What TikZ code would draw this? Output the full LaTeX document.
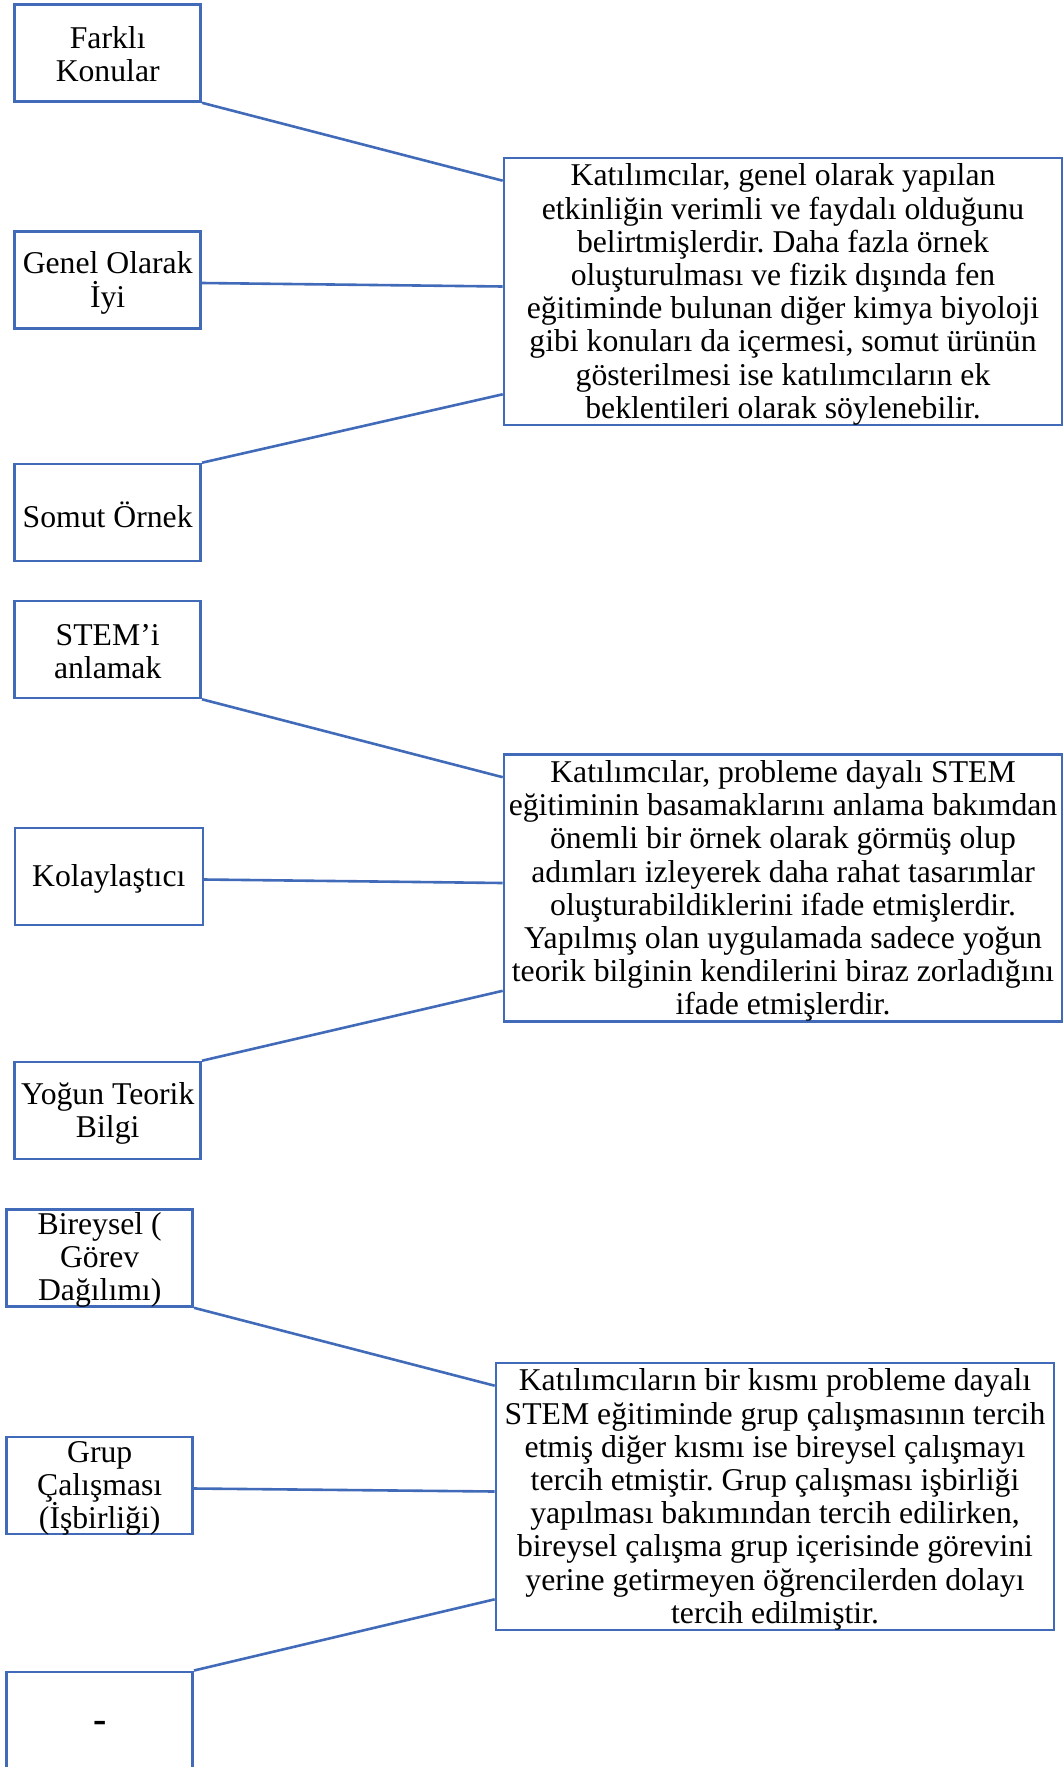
\documentclass[tikz,border=0pt]{standalone}
\usepackage{fontspec}
\setmainfont{Liberation Serif}
\usetikzlibrary{calc}
\definecolor{frame}{HTML}{416BB8}
\frenchspacing
\begin{document}
\begin{tikzpicture}[x=1pt,y=-1pt,
  every node/.style={font=\fontsize{31.7}{33.2}\selectfont, inner sep=0pt},
  tag/.style={draw=frame, line width=2.6pt, minimum width=186pt, minimum height=97pt},
  tagwide/.style={tag, minimum width=188pt},
  label text/.style={align=center},
  summary/.style={draw=frame, line width=2.6pt, minimum width=558pt, minimum height=267pt},
  link/.style={draw=frame, line width=2.6pt}]
\useasboundingbox (0,0) rectangle (1064,1767);

% ---- group 1 ----
\node[tag] (b1) at (107.7,53) {};
\node[label text] (b1t) at ([yshift=-1pt]b1) {Farklı\\Konular};
\node[tag] (b2) at (107.7,280) {};
\node[label text] (b2t) at ([yshift=-3pt]b2) {Genel Olarak\\İyi};
\node[tag] (b3) at (107.7,512.5) {};
\node[label text] (b3t) at ([yshift=-2pt]b3) {Somut Örnek};
\node[summary] (r1) at (783,291.5) {};
\node[label text] (r1t) at ([yshift=-3pt]r1) {Katılımcılar, genel olarak yapılan\\
etkinliğin verimli ve faydalı olduğunu\\
belirtmişlerdir. Daha fazla örnek\\
oluşturulması ve fizik dışında fen\\
eğitiminde bulunan diğer kimya biyoloji\\
gibi konuları da içermesi, somut ürünün\\
gösterilmesi ise katılımcıların ek\\
beklentileri olarak söylenebilir.};
\draw[link] (b1.south east) -- ([yshift=-24pt]r1.north west);
\draw[link] ([yshift=-3pt]b2.east) -- ([yshift=5pt]r1.west);
\draw[link] (b3.north east) -- ([yshift=32pt]r1.south west);

% ---- group 2 ----
\node[tag] (b4) at (107.7,649.5) {};
\node[label text] (b4t) at ([yshift=-2pt]b4) {STEM’i\\anlamak};
\node[tagwide] (b5) at (108.8,876.5) {};
\node[label text] (b5t) at ([yshift=-2pt]b5) {Kolaylaştıcı};
\node[tag] (b6) at (107.7,1110.5) {};
\node[label text] (b6t) at ([yshift=-3pt]b6) {Yoğun Teorik\\Bilgi};
\node[summary] (r2) at (783,888) {};
\node[label text] (r2t) at ([yshift=-3pt]r2) {Katılımcılar, probleme dayalı STEM\\
eğitiminin basamaklarını anlama bakımdan\\
önemli bir örnek olarak görmüş olup\\
adımları izleyerek daha rahat tasarımlar\\
oluşturabildiklerini ifade etmişlerdir.\\
Yapılmış olan uygulamada sadece yoğun\\
teorik bilginin kendilerini biraz zorladığını\\
ifade etmişlerdir.};
\draw[link] (b4.south east) -- ([yshift=-24pt]r2.north west);
\draw[link] ([yshift=-3pt]b5.east) -- ([yshift=5pt]r2.west);
\draw[link] (b6.north east) -- ([yshift=32pt]r2.south west);

% ---- group 3 ----
\node[tag] (b7) at (99.7,1258) {};
\node[label text] (b7t) at ([yshift=-2pt]b7) {Bireysel (\\Görev\\Dağılımı)};
\node[tag] (b8) at (99.7,1485.5) {};
\node[label text] (b8t) at ([yshift=-3pt]b8) {Grup\\Çalışması\\(İşbirliği)};
\node[tag] (b9) at (99.7,1720.3) {};
\node[label text, font=\fontsize{40}{40}\selectfont\bfseries] (b9t) at ([yshift=-7pt]b9) {-};
\node[summary] (r3) at (775,1496.5) {};
\node[label text] (r3t) at ([yshift=-3pt]r3) {Katılımcıların bir kısmı probleme dayalı\\
STEM eğitiminde grup çalışmasının tercih\\
etmiş diğer kısmı ise bireysel çalışmayı\\
tercih etmiştir. Grup çalışması işbirliği\\
yapılması bakımından tercih edilirken,\\
bireysel çalışma grup içerisinde görevini\\
yerine getirmeyen öğrencilerden dolayı\\
tercih edilmiştir.};
\draw[link] (b7.south east) -- ([yshift=-24pt]r3.north west);
\draw[link] ([yshift=-3pt]b8.east) -- ([yshift=5pt]r3.west);
\draw[link] (b9.north east) -- ([yshift=32pt]r3.south west);
\end{tikzpicture}
\end{document}
